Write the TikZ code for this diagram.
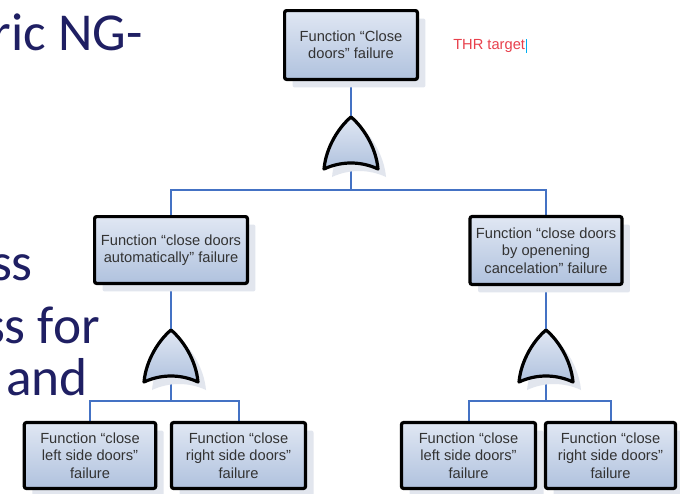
\documentclass[tikz,border=0pt]{standalone}
\usepackage{fontspec}
\setmainfont{Liberation Sans}
\newfontfamily\slidefont{Carlito}
\usetikzlibrary{shadows,backgrounds}
\definecolor{navy}{RGB}{31,31,99}
\definecolor{connc}{RGB}{68,114,196}
\definecolor{boxtop}{RGB}{224,231,243}
\definecolor{boxbot}{RGB}{176,194,222}
\definecolor{shadowc}{RGB}{226,230,238}
\definecolor{txt}{RGB}{51,51,51}
\definecolor{thr}{RGB}{232,64,76}
\newcommand{\gatepath}{(0,0) .. controls (-12,10) and (-25,30) .. (-27,52) .. controls (-10,44) and (10,44) .. (27,52) .. controls (25,30) and (12,10) .. cycle}
\begin{document}
\begin{tikzpicture}[x=0.75pt,y=-0.75pt,
  fbox/.style={draw=black, line width=2.4pt, rounded corners=1.5pt,
    top color=boxtop, bottom color=boxbot, align=center,
    font=\fontsize{11}{13}\selectfont, text=txt, inner sep=0pt,
    drop shadow={shadow xshift=6pt, shadow yshift=-6pt, fill=shadowc, opacity=1}},
  conn/.style={draw=connc, line width=1.5pt},
  slide/.style={font=\slidefont\fontsize{40}{48}\selectfont, text=navy, inner sep=0pt, anchor=base east},
  orgate/.pic={
    \fill[shadowc, shift={(8,8)}] \gatepath;
    \draw[line width=2.4pt, line join=round, top color=boxtop, bottom color=boxbot] \gatepath;
  }]
\useasboundingbox (0,0) rectangle (680,493);

% slide text fragments
\node[slide] (t1) at (143,50) {ric NG-};
\node[slide] (t2) at (33,280) {ss};
\node[slide] (t3) at (100,343) {ss for};
\node[slide] (t4) at (88,395) {and};

% THR target
\node[font=\fontsize{11}{13}\selectfont, text=thr, anchor=west, inner sep=0pt] (thr) at (453,46) {THR target};
\draw[cyan, line width=0.6pt] ([xshift=0.8pt]thr.north east) -- ([xshift=0.8pt]thr.south east);

% boxes
\node[fbox, minimum width=99.6pt, minimum height=51.6pt] (top) at (351,45) {Function “Close\\doors” failure};
\node[fbox, minimum width=114.6pt, minimum height=50.1pt] (midL) at (171,250) {Function “close doors\\automatically” failure};
\node[fbox, minimum width=113.9pt, minimum height=50.9pt] (midR) at (546,250.5) {Function “close doors\\by openening\\cancelation” failure};
\node[fbox, minimum width=98.5pt, minimum height=49.4pt] (L1) at (90,455.5) {Function “close\\left side doors”\\failure};
\node[fbox, minimum width=100.5pt, minimum height=49.4pt] (L2) at (238.5,455.5) {Function “close\\right side doors”\\failure};
\node[fbox, minimum width=100.5pt, minimum height=49.4pt] (R1) at (468.5,455.5) {Function “close\\left side doors”\\failure};
\node[fbox, minimum width=97.5pt, minimum height=49.4pt] (R2) at (610.5,455.5) {Function “close\\right side doors”\\failure};

% gates
\coordinate (g1) at (351,117);
\coordinate (g1b) at (351,163);
\coordinate (h1) at (351,190);
\coordinate (g2) at (171,330);
\coordinate (g2b) at (171,376);
\coordinate (h2) at (171,401);
\coordinate (g3) at (546,330);
\coordinate (g3b) at (546,376);
\coordinate (h3) at (546,401);
\pic at (g1) {orgate};
\pic at (g2) {orgate};
\pic at (g3) {orgate};

% connectors
\begin{scope}[on background layer]
\fill[white] (0,0) rectangle (680,493);
\draw[conn] (top.south) -- (g1);
\draw[conn] (g1b) -- (h1);
\draw[conn] (midL.north) |- (h1) -| (midR.north);
\draw[conn] (midL.south) -- (g2);
\draw[conn] (g2b) -- (h2);
\draw[conn] (L1.north) |- (h2) -| (L2.north);
\draw[conn] (midR.south) -- (g3);
\draw[conn] (g3b) -- (h3);
\draw[conn] (R1.north) |- (h3) -| (R2.north);
\end{scope}
\end{tikzpicture}
\end{document}
